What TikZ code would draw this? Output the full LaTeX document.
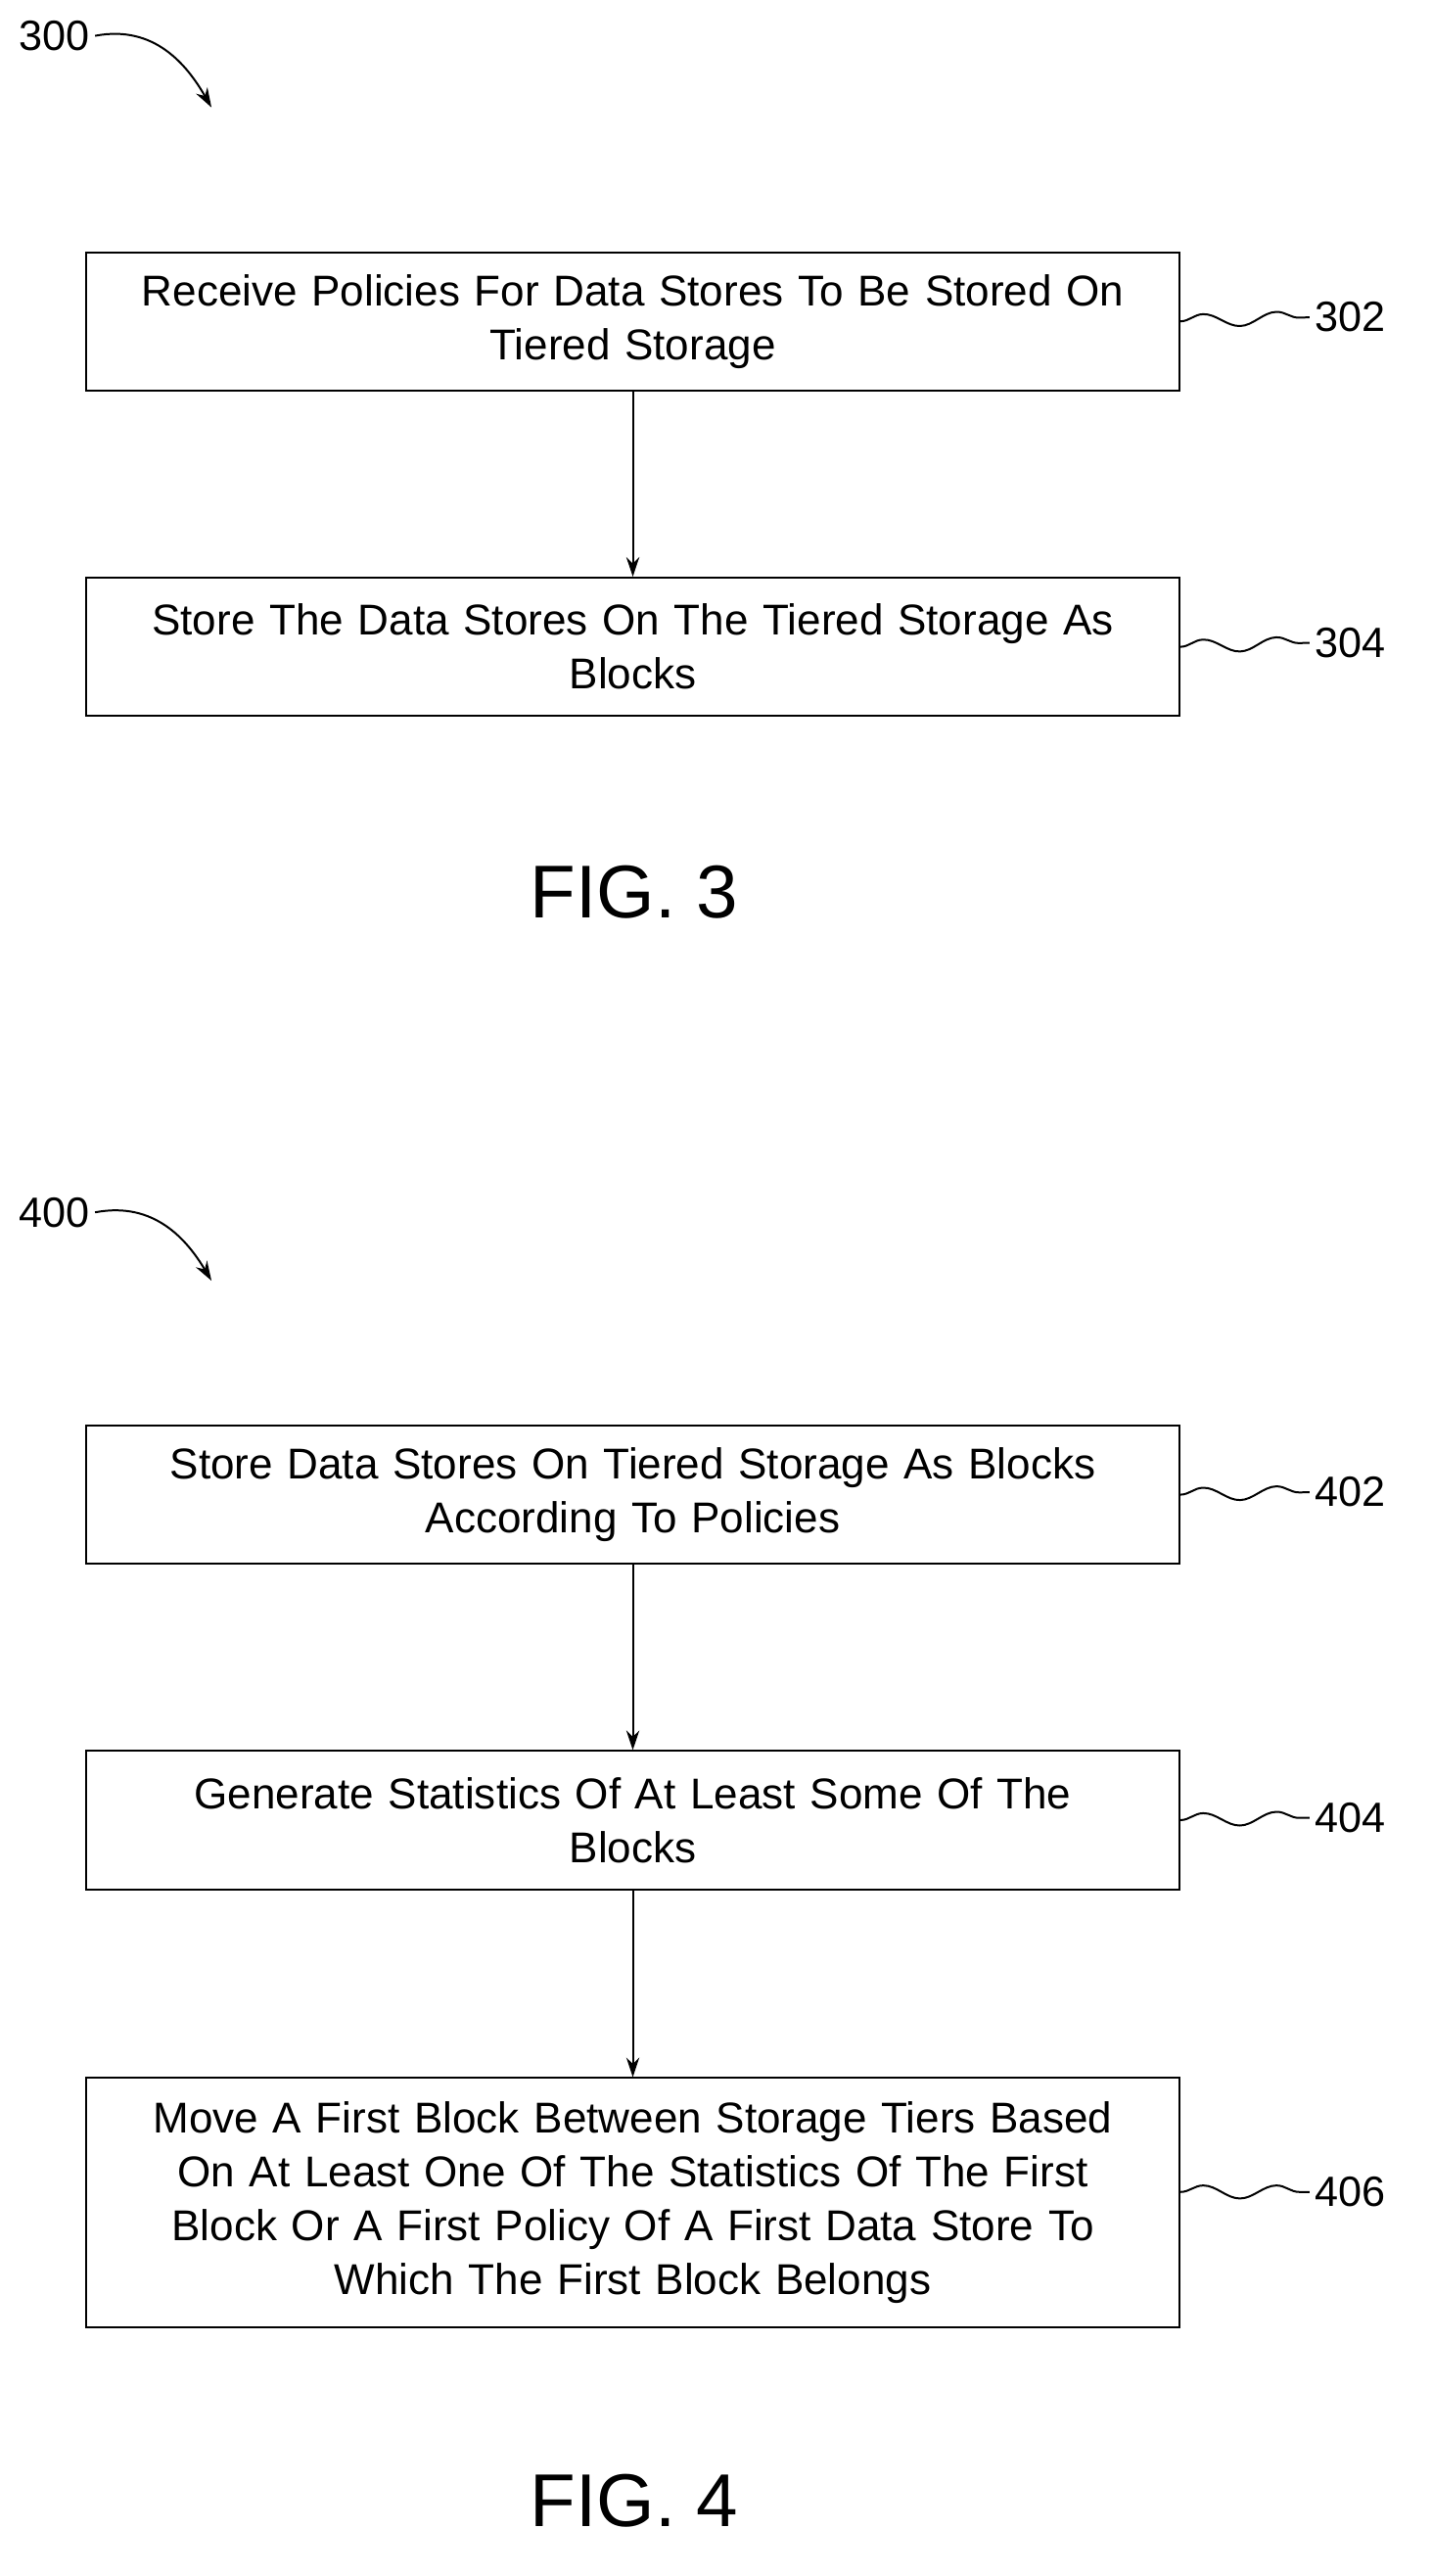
\documentclass[tikz,border=0pt]{standalone}
\usepackage{fontspec}
\setmainfont{Liberation Sans}
\usetikzlibrary{arrows.meta,decorations.pathmorphing}
\tikzset{
  stepbox/.style={draw,line width=1.2pt,minimum width=672pt,text width=660pt,align=center,
    font=\fontsize{26.5}{33}\selectfont,inner sep=0pt},
  flow/.style={line width=1.2pt,-{Stealth[length=12pt,width=8pt]}},
  wave/.style={line width=1.2pt,decorate,decoration={snake,amplitude=4pt,segment length=45pt}},
  ref/.style={font=\fontsize{26}{30}\selectfont,anchor=west},
  fig/.style={font=\fontsize{46}{50}\selectfont}
}
\begin{document}
\begin{tikzpicture}[x=1pt,y=-1pt]
\useasboundingbox (0,0) rectangle (880,1583);
% FIG. 3
\node[ref] (n300) at (8,22) {300};
\coordinate (t300) at (130,66);
\draw[flow] (n300.east) .. controls (95,15) and (115,40) .. (t300);
\node[stepbox,minimum height=85pt] (s302) at (389,197.5) {Receive Policies For Data Stores To Be Stored On\\Tiered Storage};
\node[stepbox,minimum height=85pt] (s304) at (389,397.5) {Store The Data Stores On The Tiered Storage As\\Blocks};
\draw[flow] (s302) -- (s304);
\node[ref] (n302) at (805,195) {302};
\node[ref] (n304) at (805,395) {304};
\draw[wave] (s302.east) -- (n302.west);
\draw[wave] (s304.east) -- (n304.west);
\node[fig] (f3) at (390,548) {FIG. 3};
% FIG. 4
\node[ref] (n400) at (8,745) {400};
\coordinate (t400) at (130,787);
\draw[flow] (n400.east) .. controls (95,738) and (115,762) .. (t400);
\node[stepbox,minimum height=85pt] (s402) at (389,918.5) {Store Data Stores On Tiered Storage As Blocks\\According To Policies};
\node[stepbox,minimum height=85pt] (s404) at (389,1118.5) {Generate Statistics Of At Least Some Of The\\Blocks};
\node[stepbox,minimum height=153pt] (s406) at (389,1353.5) {Move A First Block Between Storage Tiers Based\\On At Least One Of The Statistics Of The First\\Block Or A First Policy Of A First Data Store To\\Which The First Block Belongs};
\draw[flow] (s402) -- (s404);
\draw[flow] (s404) -- (s406);
\node[ref] (n402) at (805,917) {402};
\node[ref] (n404) at (805,1117) {404};
\node[ref] (n406) at (805,1347) {406};
\draw[wave] (s402.east) -- (n402.west);
\draw[wave] (s404.east) -- (n404.west);
\draw[wave] (s406.east |- n406) -- (n406.west);
\node[fig] (f4) at (390,1537) {FIG. 4};
\end{tikzpicture}
\end{document}
